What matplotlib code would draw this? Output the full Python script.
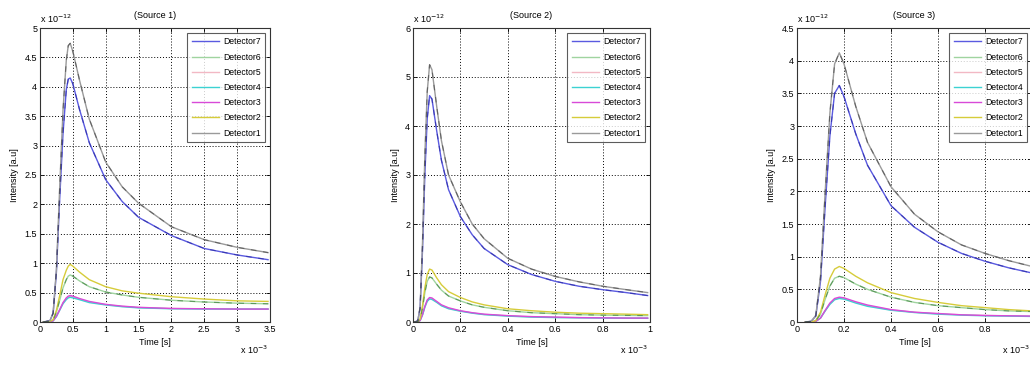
import matplotlib
matplotlib.use("Agg")
import matplotlib.pyplot as plt

plt.rcParams['font.family'] = ['Liberation Sans', 'DejaVu Sans']

labels = ['Detector7', 'Detector6', 'Detector5', 'Detector4', 'Detector3', 'Detector2', 'Detector1']
colors = ['#5a5ae0', '#9fd49f', '#f2b8c4', '#3cd2d2', '#d84ad8', '#d6cc3a', '#9a9a9a']
dash_colors = ['#2a2aa0', '#3f7f3f', None, None, None, None, '#4a4a4a']

titles = ['(Source 1)', '(Source 2)', '(Source 3)']
xmax = [3.5, 1.0, 1.0]
ymax = [5.0, 6.0, 4.5]
ystep = [0.5, 1.0, 0.5]
xstep = [0.5, 0.2, 0.2]

# Source 1 (time x 1e-3 s, intensity x 1e-12)
s1_time = [0.05, 0.15, 0.2, 0.25, 0.3, 0.35, 0.4, 0.43, 0.46, 0.5, 0.6, 0.75, 1.0, 1.25, 1.5, 2.0, 2.5, 3.0, 3.47]
s1_det7 = [0, 0.02, 0.15, 0.85, 2.1, 3.2, 3.95, 4.13, 4.15, 4.05, 3.62, 3.05, 2.42, 2.05, 1.78, 1.47, 1.25, 1.14, 1.06]
s1_det6 = [0, 0.01, 0.03, 0.17, 0.37, 0.58, 0.72, 0.78, 0.8, 0.78, 0.7, 0.6, 0.51, 0.46, 0.42, 0.37, 0.34, 0.32, 0.31]
s1_det5 = [0, 0.01, 0.02, 0.1, 0.21, 0.32, 0.4, 0.43, 0.44, 0.43, 0.39, 0.34, 0.295, 0.265, 0.245, 0.23, 0.222, 0.22, 0.22]
s1_det4 = [0, 0.01, 0.02, 0.09, 0.2, 0.31, 0.38, 0.41, 0.42, 0.41, 0.38, 0.33, 0.29, 0.26, 0.24, 0.225, 0.22, 0.22, 0.22]
s1_det3 = [0, 0.01, 0.02, 0.1, 0.21, 0.33, 0.41, 0.44, 0.45, 0.44, 0.4, 0.35, 0.3, 0.27, 0.25, 0.23, 0.225, 0.22, 0.22]
s1_det2 = [0, 0.01, 0.04, 0.2, 0.45, 0.72, 0.88, 0.95, 0.98, 0.95, 0.85, 0.72, 0.6, 0.53, 0.49, 0.43, 0.39, 0.36, 0.35]
s1_det1 = [0, 0.02, 0.15, 0.9, 2.3, 3.6, 4.45, 4.7, 4.74, 4.6, 4.12, 3.45, 2.72, 2.3, 2.02, 1.62, 1.4, 1.27, 1.18]

# Source 2
s2_time = [0.005, 0.02, 0.03, 0.04, 0.05, 0.06, 0.07, 0.08, 0.1, 0.12, 0.15, 0.2, 0.25, 0.3, 0.4, 0.5, 0.6, 0.7, 0.8, 0.9, 0.99]
s2_det7 = [0, 0.02, 0.28, 1.45, 3.0, 4.15, 4.62, 4.55, 3.9, 3.3, 2.7, 2.15, 1.78, 1.5, 1.17, 0.97, 0.83, 0.73, 0.66, 0.6, 0.54]
s2_det6 = [0, 0.005, 0.05, 0.28, 0.6, 0.83, 0.92, 0.9, 0.77, 0.65, 0.53, 0.43, 0.35, 0.3, 0.23, 0.19, 0.17, 0.15, 0.14, 0.135, 0.13]
s2_det5 = [0, 0.003, 0.03, 0.15, 0.31, 0.44, 0.49, 0.48, 0.41, 0.34, 0.28, 0.225, 0.185, 0.155, 0.125, 0.105, 0.095, 0.088, 0.083, 0.08, 0.08]
s2_det4 = [0, 0.003, 0.03, 0.14, 0.3, 0.42, 0.47, 0.46, 0.4, 0.33, 0.27, 0.22, 0.18, 0.15, 0.12, 0.1, 0.09, 0.085, 0.08, 0.078, 0.075]
s2_det3 = [0, 0.003, 0.03, 0.15, 0.32, 0.45, 0.5, 0.49, 0.42, 0.35, 0.29, 0.23, 0.19, 0.16, 0.13, 0.11, 0.1, 0.09, 0.085, 0.08, 0.08]
s2_det2 = [0, 0.005, 0.06, 0.33, 0.7, 0.97, 1.08, 1.06, 0.9, 0.76, 0.62, 0.5, 0.41, 0.35, 0.27, 0.23, 0.2, 0.18, 0.17, 0.16, 0.15]
s2_det1 = [0, 0.02, 0.3, 1.6, 3.4, 4.7, 5.25, 5.15, 4.4, 3.7, 3.0, 2.45, 2.0, 1.7, 1.3, 1.08, 0.93, 0.82, 0.73, 0.66, 0.6]

# Source 3
s3_time = [0.035, 0.06, 0.08, 0.1, 0.12, 0.14, 0.16, 0.18, 0.2, 0.25, 0.3, 0.4, 0.5, 0.6, 0.7, 0.8, 0.9, 1.0]
s3_det7 = [0, 0.01, 0.09, 0.62, 1.78, 2.85, 3.5, 3.62, 3.45, 2.88, 2.4, 1.78, 1.45, 1.22, 1.05, 0.93, 0.83, 0.75]
s3_det6 = [0, 0.002, 0.02, 0.12, 0.35, 0.55, 0.67, 0.7, 0.68, 0.58, 0.5, 0.38, 0.3, 0.25, 0.22, 0.19, 0.17, 0.16]
s3_det5 = [0, 0.001, 0.01, 0.06, 0.17, 0.28, 0.35, 0.37, 0.36, 0.3, 0.25, 0.185, 0.15, 0.125, 0.11, 0.1, 0.093, 0.088]
s3_det4 = [0, 0.001, 0.01, 0.06, 0.17, 0.27, 0.34, 0.36, 0.35, 0.29, 0.24, 0.18, 0.145, 0.12, 0.105, 0.095, 0.09, 0.085]
s3_det3 = [0, 0.001, 0.01, 0.06, 0.18, 0.29, 0.36, 0.38, 0.37, 0.31, 0.26, 0.19, 0.15, 0.13, 0.11, 0.1, 0.095, 0.09]
s3_det2 = [0, 0.002, 0.02, 0.15, 0.42, 0.67, 0.81, 0.85, 0.82, 0.7, 0.6, 0.45, 0.36, 0.3, 0.25, 0.22, 0.19, 0.17]
s3_det1 = [0, 0.01, 0.1, 0.7, 2.0, 3.2, 3.95, 4.12, 3.95, 3.3, 2.75, 2.07, 1.65, 1.38, 1.18, 1.05, 0.94, 0.85]

sources = [
    (s1_time, [s1_det7, s1_det6, s1_det5, s1_det4, s1_det3, s1_det2, s1_det1]),
    (s2_time, [s2_det7, s2_det6, s2_det5, s2_det4, s2_det3, s2_det2, s2_det1]),
    (s3_time, [s3_det7, s3_det6, s3_det5, s3_det4, s3_det3, s3_det2, s3_det1]),
]

W, H = 1030, 365
fig = plt.figure(figsize=(W / 100, H / 100), dpi=100)

# axes boxes in pixels: left, right, top, bottom
boxes = [(40, 270, 28, 322), (413, 650, 28, 322), (797, 1032, 28, 322)]

for i, (time, dets) in enumerate(sources):
    l, r, t, b = boxes[i]
    ax = fig.add_axes([l / W, 1 - b / H, (r - l) / W, (b - t) / H])
    for j, vals in enumerate(dets):
        ax.plot(time, vals, color=colors[j], lw=1.0, label=labels[j])
    for j, vals in enumerate(dets):
        if dash_colors[j]:
            ax.plot(time, vals, color=dash_colors[j], lw=0.8, ls=(0, (5, 6)), alpha=0.7)

    ax.set_xlim(0, xmax[i])
    ax.set_ylim(0, ymax[i])
    n = int(round(xmax[i] / xstep[i]))
    xt = [k * xstep[i] for k in range(n + 1)]
    ax.set_xticks(xt)
    ax.set_xticklabels(['%g' % v for v in xt])
    m = int(round(ymax[i] / ystep[i]))
    yt = [k * ystep[i] for k in range(m + 1)]
    ax.set_yticks(yt)
    ax.set_yticklabels(['%g' % v for v in yt])
    ax.tick_params(direction='in', length=3, width=0.6, labelsize=6.5, pad=2,
                   top=True, right=True)
    ax.grid(True, color='black', ls=(0, (1, 2)), lw=0.7)
    for s in ax.spines.values():
        s.set_linewidth(0.8)
        s.set_color('#333333')

    ax.set_title(titles[i], fontsize=6.5, pad=7)
    ax.set_xlabel('Time [s]', fontsize=6.5, labelpad=3)
    ax.set_ylabel('Intensity [a.u]', fontsize=6.5, labelpad=4)
    ax.text(0.0, 1.01, r'x 10$^{-12}$', transform=ax.transAxes, fontsize=6.5,
            ha='left', va='bottom')
    ax.text(0.99, -0.095, r'x 10$^{-3}$', transform=ax.transAxes, fontsize=6.5,
            ha='right', va='center')

    leg = ax.legend(loc='upper right', fontsize=6.2, frameon=True, fancybox=False,
                    handlelength=3.2, borderpad=0.5, labelspacing=0.72,
                    borderaxespad=0.6, handletextpad=0.4)
    leg.get_frame().set_edgecolor('#333333')
    leg.get_frame().set_linewidth(0.8)

fig.savefig('out.png', dpi=100)
